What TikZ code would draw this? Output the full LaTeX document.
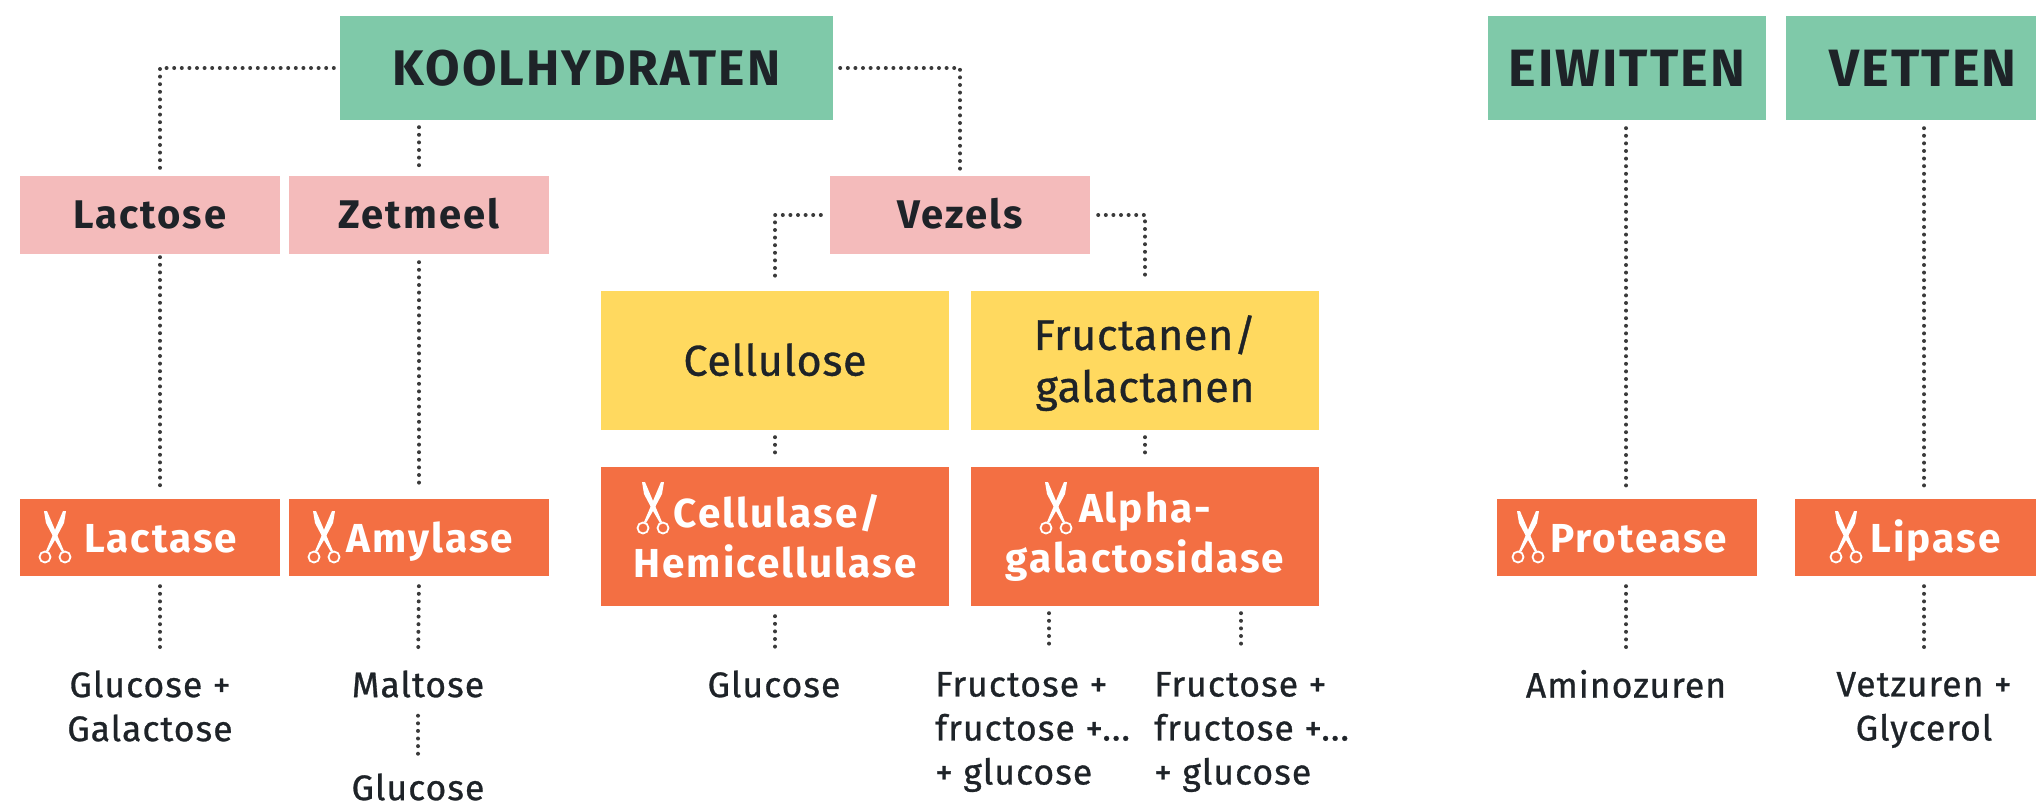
\documentclass[tikz,border=0pt]{standalone}
\usepackage{fontspec}
\setmainfont{Fira Sans}
\newfontfamily\headfont[LetterSpace=4]{Fira Sans}
\newfontfamily\enzfont[LetterSpace=5]{Fira Sans}
\newfontfamily\resfont[LetterSpace=3,FakeBold=0.8]{Fira Sans}
\newfontfamily\fibfont[LetterSpace=1.5,FakeBold=0.8]{Fira Sans}
\usetikzlibrary{calc}
\definecolor{cgreen}{HTML}{7FC9A9}
\definecolor{cpink}{HTML}{F4BBBB}
\definecolor{cyellow}{HTML}{FFD95F}
\definecolor{corange}{HTML}{F36F43}
\definecolor{cink}{HTML}{1E2328}
\definecolor{cdot}{HTML}{3A3A3A}
\newcommand{\enzstrut}{\rule[-9pt]{0pt}{47pt}}
\newcommand{\sugstrut}{\rule[-5pt]{0pt}{37pt}}
\tikzset{
  box/.style={rectangle,inner sep=0pt,draw=none,align=center,text=cink},
  headbox/.style={box,fill=cgreen,minimum height=104pt,font=\headfont\fontsize{50}{54}\selectfont\bfseries},
  sugar/.style={box,fill=cpink,minimum width=260pt,minimum height=78pt,font=\enzfont\fontsize{40}{44}\selectfont\bfseries},
  fibre/.style={box,fill=cyellow,minimum width=348pt,minimum height=139pt,font=\fibfont\fontsize{43}{52}\selectfont},
  enzyme/.style={box,fill=corange,text=white,font=\enzfont\fontsize{40.5}{50}\selectfont\bfseries},
  smallenz/.style={enzyme,minimum height=77pt},
  bigenz/.style={enzyme,minimum width=348pt,minimum height=139pt},
  result/.style={rectangle,inner sep=0pt,text=cink,font=\resfont\fontsize{35.5}{44}\selectfont},
  dotted line/.style={draw=cdot,line width=4pt,line cap=round,dash pattern=on 0pt off 7.6pt},
  scissors/.pic={
    \fill[white] (-11,-26) -- (-8,-26) -- (3,0) -- (9,14) -- (7,15) -- (0,3) -- (-9,-14) -- cycle;
    \fill[white] (11,-26) -- (8,-26) -- (-3,0) -- (-9,14) -- (-7,15) -- (0,3) -- (9,-14) -- cycle;
    \draw[white,line width=1.8pt] (-10,20) circle (5.5);
    \draw[white,line width=1.8pt] (10,20) circle (5.5);
  }
}
\begin{document}
\begin{tikzpicture}[x=1pt,y=-1pt]
\useasboundingbox (0,0) rectangle (2036,803);
\begin{scope}
\clip (0,0) rectangle (2036,803);
% top row
\node[headbox,minimum width=493pt] (kool) at (586.5,68) {KOOLHYDRATEN};
\node[headbox,minimum width=278pt,font=\headfont\fontsize{52.5}{54}\selectfont\bfseries] (eiwit) at (1627,68) {EIWITTEN};
\node[headbox,minimum width=250pt,font=\headfont\fontsize{52.5}{54}\selectfont\bfseries] (vet) at (1911,68) {\hspace{24pt}VETTEN};
% second row
\node[sugar] (lactose) at (150,215) {\sugstrut Lactose};
\node[sugar] (zetmeel) at (419,215) {\sugstrut Zetmeel};
\node[sugar] (vezels) at (960,215) {\sugstrut Vezels};
% fibres
\node[fibre] (cellulose) at (775,360.5) {\rule[-2pt]{0pt}{0pt}Cellulose};
\node[fibre] (fructanen) at (1145,360.5) {\rule{0pt}{40pt}Fructanen/\\galactanen};
% enzymes
\node[smallenz,minimum width=260pt] (lactase) at (150,537.5) {\hspace{21pt}\enzstrut Lactase};
\node[smallenz,minimum width=260pt] (amylase) at (419,537.5) {\hspace{22pt}\enzstrut Amylase};
\node[bigenz] (cellulase) at (775,536.5) {\hspace{4pt}Cellulase/\\Hemicellulase};
\node[bigenz] (alpha) at (1145,536.5) {Alpha-\\galactosidase};
\node[smallenz,minimum width=260pt] (protease) at (1627,537.5) {\hspace{23pt}\enzstrut Protease};
\node[smallenz,minimum width=241pt] (lipase) at (1915.5,537.5) {\hspace{40pt}\enzstrut Lipase};
% scissors
\pic at (55,537) {scissors};
\pic at (324,537) {scissors};
\pic at (653,508) {scissors};
\pic at (1056,508) {scissors};
\pic at (1528,537) {scissors};
\pic at (1846,537) {scissors};
% results
\node[result,align=center] (r1) at (150,706) {Glucose +\\Galactose};
\node[result] (r2) at (418,684) {Maltose};
\node[result] (r3) at (418,787) {Glucose};
\node[result] (r4) at (774,684) {Glucose};
\node[result,align=left,anchor=west] (r5) at (935,732) {Fructose +\\fructose +...\\+ glucose};
\node[result,align=left,anchor=west] (r6) at (1154,732) {Fructose +\\fructose +...\\+ glucose};
\node[result] (r7) at (1626,684) {Aminozuren};
\node[result,align=center] (r8) at (1924,710) {Vetzuren +\\Glycerol};
% connectors
\draw[dotted line,shorten <=6pt,shorten >=5pt] (kool.west) -| ([xshift=10pt]lactose.north);
\draw[dotted line,shorten <=7pt,shorten >=7pt] (kool.east) -| (vezels.north);
\draw[dotted line,shorten <=7pt,shorten >=7pt] (zetmeel.north |- kool.south) -- (zetmeel.north);
\draw[dotted line,shorten <=8pt,shorten >=9pt] (eiwit.south -| r7.north) -- (protease.north -| r7.north);
\draw[dotted line,shorten <=8pt,shorten >=9pt] (vet.south -| r8.north) -- (lipase.north -| r8.north);
\draw[dotted line,shorten <=3pt,shorten >=9pt] ([xshift=10pt]lactose.south) -- ([xshift=10pt]lactase.north);
\draw[dotted line,shorten <=8pt,shorten >=9pt] (zetmeel.south) -- (amylase.north);
\draw[dotted line,shorten <=9pt,shorten >=9pt] (vezels.west) -| (cellulose.north);
\draw[dotted line,shorten <=8pt,shorten >=10pt] (vezels.east) -| (fructanen.north);
\draw[dotted line,shorten <=7pt,shorten >=7pt] (cellulose.south) -- ([yshift=1pt]cellulase.north);
\draw[dotted line,shorten <=7pt,shorten >=7pt] (fructanen.south) -- ([yshift=1pt]alpha.north);
\draw[dotted line,shorten <=10pt,shorten >=20pt] ([xshift=10pt]lactase.south) -- ([xshift=10pt]lactase.south |- r1.north);
\draw[dotted line,shorten <=10pt,shorten >=16pt] (amylase.south) -- (r2.north);
\draw[dotted line,shorten <=18pt,shorten >=12pt] (r2.south) -- (r3.north);
\draw[dotted line,shorten <=10pt,shorten >=17pt] (cellulase.south) -- (cellulase.south |- r4.north);
\draw[dotted line,shorten <=7pt,shorten >=22pt] ([xshift=-96pt]alpha.south) -- ([xshift=-96pt]alpha.south |- r5.north);
\draw[dotted line,shorten <=7pt,shorten >=22pt] ([xshift=96pt]alpha.south) -- ([xshift=96pt]alpha.south |- r6.north);
\draw[dotted line,shorten <=10pt,shorten >=16pt] (protease.south -| r7.north) -- (r7.north);
\draw[dotted line,shorten <=10pt,shorten >=20pt] (lipase.south -| r8.north) -- (r8.north);
\end{scope}
\end{tikzpicture}
\end{document}
